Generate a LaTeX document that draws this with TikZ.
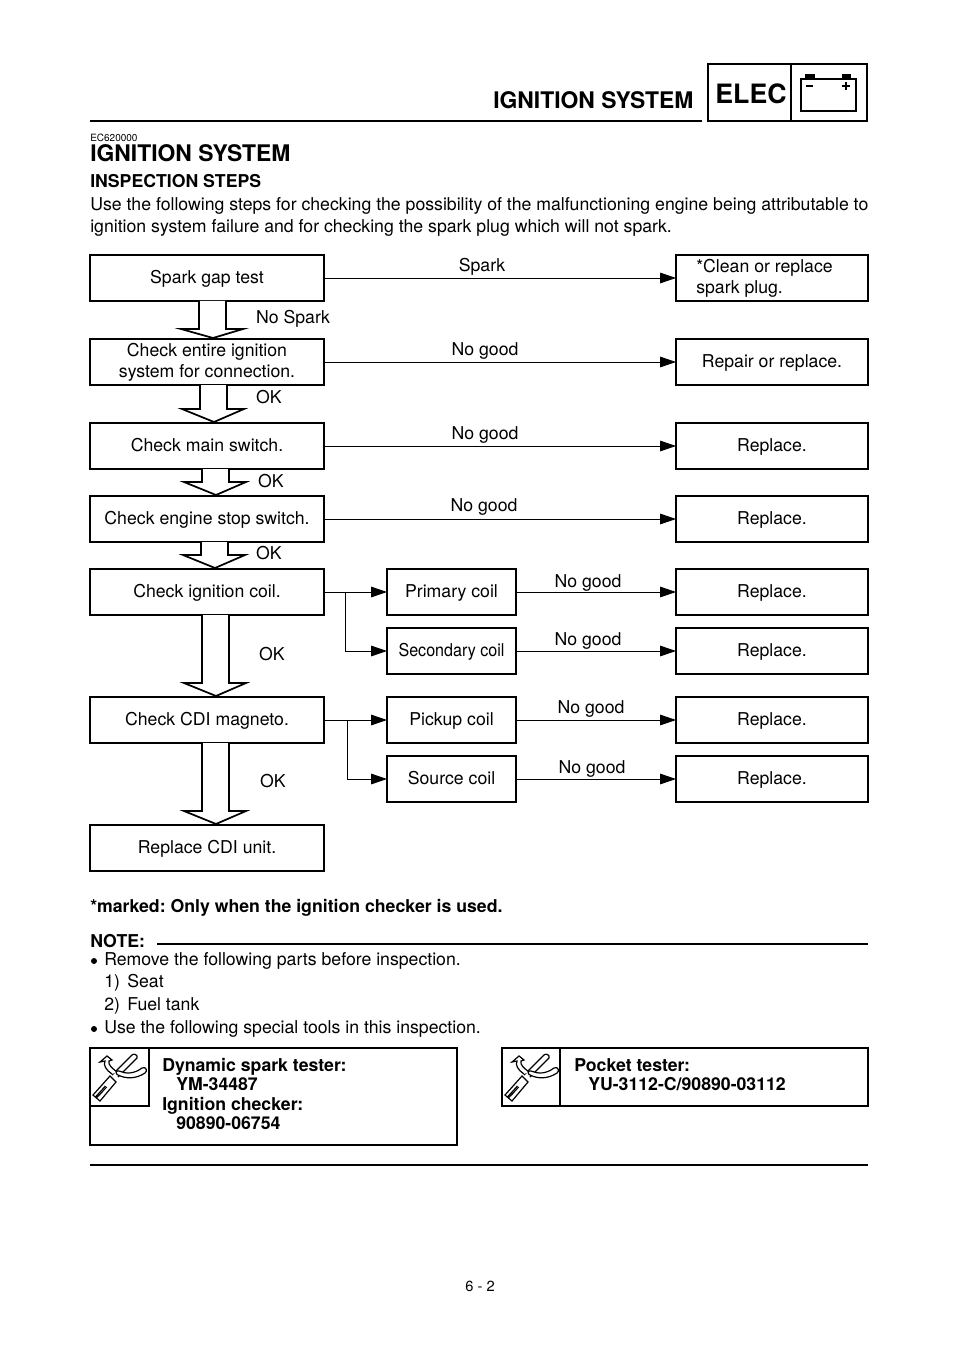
\documentclass[tikz,border=0pt]{standalone}
\usepackage{fontspec}
\setmainfont{TeX Gyre Heros}
\usepackage{graphicx}
\usepackage{tikz}
\usetikzlibrary{calc}
\usetikzlibrary{arrows.meta}

\tikzset{
	stepbox/.style={draw,line width=2pt,minimum width=175.5pt,minimum height=34.5pt,inner sep=0pt,outer sep=0pt,align=center,font=\fsize,execute at begin node=\rule[-2.9pt]{0pt}{14pt}},
	endbox/.style={stepbox,minimum width=144pt},
	coilbox/.style={stepbox,minimum width=96.75pt},
	flow/.style={line width=0.65pt,-{Triangle[length=12pt,width=8pt]}},
	bigarrow/.style={line width=1.3pt,fill=white},
	lab/.style={inner sep=0pt,font=\fsize,yshift=-1.5pt,execute at begin node=\vphantom{gh}},
	txt/.style={inner sep=0pt,anchor=base west,font=\fsize},
	boldtxt/.style={inner sep=0pt,anchor=base west,font=\fsize\bfseries},
	rulethick/.style={line width=2.2pt},
	frame/.style={draw,line width=2pt},
}
\newcommand{\fsize}{\fontsize{13.26}{15.75}\selectfont\frenchspacing}
% hollow arrow from one box down to the next one: head depth, then sideways shift
\newcommand{\hollowarrow}[4]{
	\draw[bigarrow] ($(#1.south)+(-8+#4,0)$) -- ($(#2.north)+(-8+#4,-#3)$) -- ++(-18,0) -- ($(#2.north)+(6+#4,-1)$)
		-- ($(#2.north)+(36+#4,-#3)$) -- ++(-17,0) -- ($(#1.south)+(19+#4,0)$);
}
% hook wrench, origin is the corner of the small square
\newcommand{\toolicon}[2]{
	\begin{scope}[shift={(#1,#2)}]
		\draw[line width=0.9pt,fill=white] (22,27) -- (42,7) .. controls (44,5) and (48,7) .. (47,10) -- (28,29);
		\draw[line width=0.9pt,fill=white] (22,26) .. controls (16,22) and (13,17) .. (15,13) -- (10,14) -- (17,8) -- (22,12) -- (19,13)
			.. controls (18,17) and (22,20) .. (27,24);
		\draw[line width=0.9pt,fill=white] (3,47) -- (10,53) -- (26,34) -- (20,28) -- cycle;
		\draw[line width=2.2pt,dash pattern=on 0.7pt off 0.35pt] (6,49.5) -- (16,38.5);
		\draw[line width=0.9pt,fill=white] (29,23) .. controls (36,26) and (44,26) .. (52,20) .. controls (56,18) and (58,23) .. (55,25)
			.. controls (46,31) and (36,31) .. (28,27) .. controls (25,26) and (26,22) .. (29,23) -- cycle;
	\end{scope}
}

\begin{document}
\begin{tikzpicture}[x=0.75pt,y=-0.75pt]
\useasboundingbox (0,0) rectangle (960,1358);
		% page head
		\node[boldtxt,font=\fontsize{17.15}{20}\selectfont\bfseries] (headtitle) at (493,109) {IGNITION SYSTEM};
		\coordinate (headL) at (90,121);
		\coordinate (headR) at (702,121);
		\draw[rulethick] (headL) -- (headR);
		\draw[frame] (708,64) rectangle (867,121);
		\draw[frame] (791,64) -- (791,121);
		\node[inner sep=0pt,font=\fontsize{20}{24}\selectfont\bfseries] (elec) at (751,93.5) {ELEC};
		\draw[line width=0.9pt] (801,79) rectangle (856,111);
		\fill (805,74) rectangle (815,79);
		\fill (842,74) rectangle (851,79);
		\draw[line width=0.9pt] (806,86) -- (813,86);
		\draw[line width=0.9pt] (842,86) -- (850,86) (846,82) -- (846,90);
		% heading and intro
		\node[txt,font=\fontsize{7.5}{9}\selectfont] (code) at (90,141.5) {EC620000};
		\node[boldtxt,font=\fontsize{17.15}{20}\selectfont\bfseries] (title) at (90,162) {IGNITION SYSTEM};
		\node[boldtxt] (steps) at (90,188) {INSPECTION STEPS};
		\node[txt] (introA) at (90,211) {Use the following steps for checking the possibility of the malfunctioning engine being attributable to};
		\node[txt] (introB) at (90,233) {ignition system failure and for checking the spark plug which will not spark.};
		% left column
		\node[stepbox] (gap) at (207,278) {Spark gap test};
		\node[stepbox] (entire) at (207,362) {Check entire ignition\\system for connection.};
		\node[stepbox] (mainsw) at (207,446) {Check main switch.};
		\node[stepbox] (stopsw) at (207,519) {Check engine stop switch.};
		\node[stepbox] (coil) at (207,592) {Check ignition coil.};
		\node[stepbox] (magneto) at (207,720) {Check CDI magneto.};
		\node[stepbox] (cdi) at (207,848) {Replace CDI unit.};
		% right column
		\node[endbox,align=left] (clean) at (772,278) {*Clean or replace\hspace*{11.25pt}\\spark plug.};
		\node[endbox] (repair) at (772,362) {Repair or replace.};
		\node[endbox] (repA) at (772,446) {Replace.};
		\node[endbox] (repB) at (772,519) {Replace.};
		\node[endbox] (repC) at (772,592) {Replace.};
		\node[endbox] (repD) at (772,651) {Replace.};
		\node[endbox] (repE) at (772,720) {Replace.};
		\node[endbox] (repF) at (772,779) {Replace.};
		% coils
		\node[coilbox] (primary) at (451.5,592) {Primary coil};
		\node[coilbox] (secondary) at (451.5,651) {\scalebox{0.91}[1]{Secondary coil}};
		\node[coilbox] (pickup) at (451.5,720) {Pickup coil};
		\node[coilbox] (source) at (451.5,779) {Source coil};
		% hollow arrows
		\hollowarrow{gap}{entire}{10}{0}
		\hollowarrow{entire}{mainsw}{14}{1}
		\hollowarrow{mainsw}{stopsw}{14}{3}
		\hollowarrow{stopsw}{coil}{14}{2}
		\hollowarrow{coil}{magneto}{14}{3}
		\hollowarrow{magneto}{cdi}{14}{3}
		% connectors
		\draw[flow] (gap) -- (clean);
		\draw[flow] (entire) -- (repair);
		\draw[flow] (mainsw) -- (repA);
		\draw[flow] (stopsw) -- (repB);
		\draw[flow] (coil) -- (primary);
		\draw[flow] (primary) -- (repC);
		\draw[flow] (secondary) -- (repD);
		\draw[flow] (magneto) -- (pickup);
		\draw[flow] (pickup) -- (repE);
		\draw[flow] (source) -- (repF);
		\coordinate (branchA) at (345,592);
		\coordinate (branchB) at (347,720);
		\draw[flow] (branchA) |- (secondary);
		\draw[flow] (branchB) |- (source);
		% labels
		\node[lab] (lSpark) at (482,265) {Spark};
		\node[lab] (lNoSpark) at (293,317) {No Spark};
		\node[lab] (lNgA) at (485,349) {No good};
		\node[lab] (lNgB) at (485,433) {No good};
		\node[lab] (lNgC) at (484,505) {No good};
		\node[lab] (lOkA) at (269,397) {OK};
		\node[lab] (lOkB) at (271,481) {OK};
		\node[lab] (lOkC) at (269,553) {OK};
		\node[lab] (lOkD) at (272,654) {OK};
		\node[lab] (lOkE) at (273,781) {OK};
		\node[lab] (lNgD) at (588,581) {No good};
		\node[lab] (lNgE) at (588,639) {No good};
		\node[lab] (lNgF) at (591,707) {No good};
		\node[lab] (lNgG) at (592,767) {No good};
		% notes
		\node[boldtxt] (marked) at (90,912) {*marked: Only when the ignition checker is used.};
		\node[boldtxt] (note) at (90,947) {NOTE:};
		\coordinate (noteL) at (157,944);
		\coordinate (noteR) at (868,944);
		\draw[rulethick] (noteL) -- (noteR);
		\fill (94,961) circle (3);
		\node[txt] (noteA) at (104,965) {Remove the following parts before inspection.};
		\node[txt] (noteB) at (104,987) {1)\hspace{5.5pt}Seat};
		\node[txt] (noteC) at (104,1010) {2)\hspace{5.5pt}Fuel tank};
		\fill (94,1029) circle (3);
		\node[txt] (noteD) at (104,1033) {Use the following special tools in this inspection.};
		% tool boxes
		\draw[frame] (90,1048) rectangle (457,1145);
		\draw[frame] (90,1048) rectangle (149,1106);
		\toolicon{90}{1048}
		\node[boldtxt] (toolA) at (162,1071) {Dynamic spark tester:};
		\node[boldtxt] (toolB) at (176,1090) {YM-34487};
		\node[boldtxt] (toolC) at (162,1110) {Ignition checker:};
		\node[boldtxt] (toolD) at (176,1129) {90890-06754};
		\draw[frame] (502,1048) rectangle (868,1106);
		\draw[frame] (502,1048) rectangle (560,1106);
		\toolicon{502}{1048}
		\node[boldtxt] (toolE) at (574,1071) {Pocket tester:};
		\node[boldtxt] (toolF) at (588,1090) {YU-3112-C/90890-03112};
		\coordinate (footL) at (90,1165);
		\coordinate (footR) at (868,1165);
		\draw[rulethick] (footL) -- (footR);
		\node[inner sep=0pt,font=\fontsize{11}{13}\selectfont] (pagenum) at (480,1286) {6 - 2};
\end{tikzpicture}
\end{document}
